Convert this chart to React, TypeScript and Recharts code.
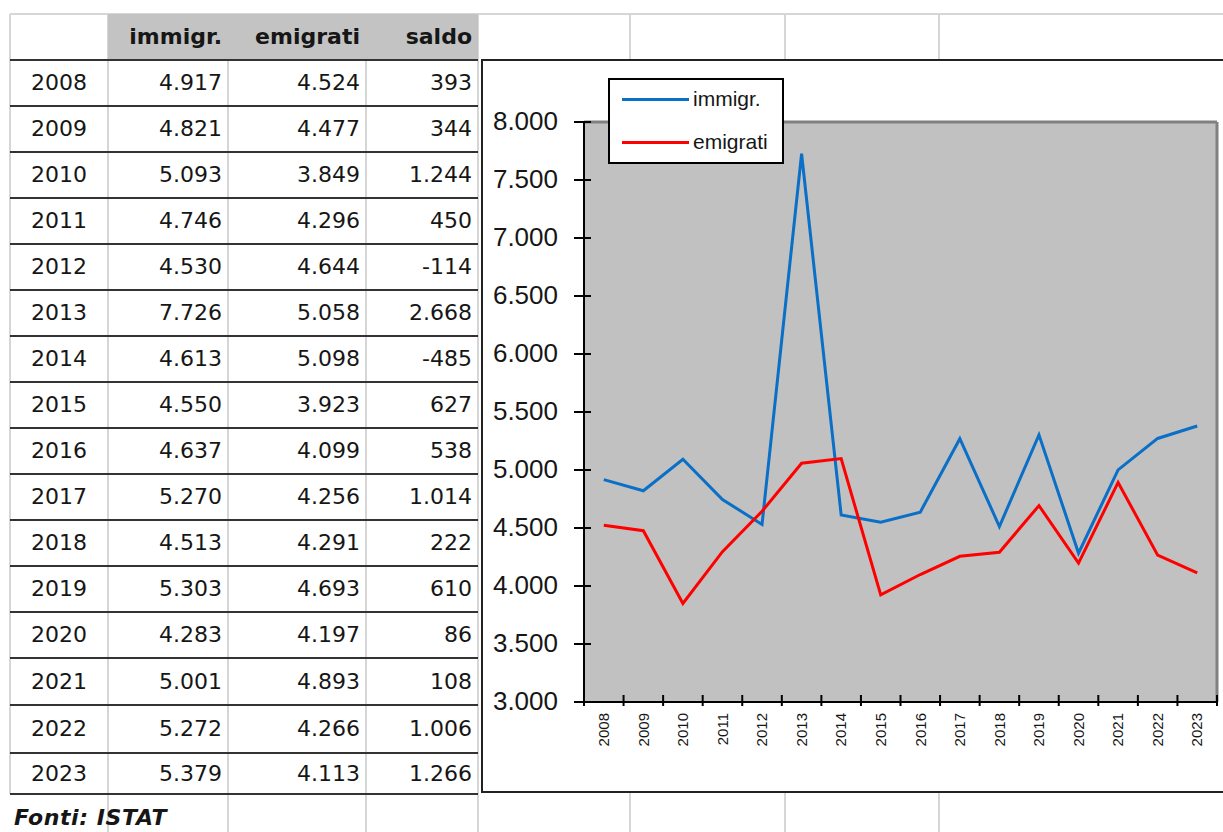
import React from 'react';
import { LineChart, Line, XAxis, YAxis, CartesianGrid, Legend } from 'recharts';

const years = ['2008', '2009', '2010', '2011', '2012', '2013', '2014', '2015', '2016', '2017', '2018', '2019', '2020', '2021', '2022', '2023'];
const immigr = [4917, 4821, 5093, 4746, 4530, 7726, 4613, 4550, 4637, 5270, 4513, 5303, 4283, 5001, 5272, 5379];
const emigrati = [4524, 4477, 3849, 4296, 4644, 5058, 5098, 3923, 4099, 4256, 4291, 4693, 4197, 4893, 4266, 4113];
const saldo = [393, 344, 1244, 450, -114, 2668, -485, 627, 538, 1014, 222, 610, 86, 108, 1006, 1266];
const headers = ['immigr.', 'emigrati', 'saldo'];
const seriesNames = ['immigr.', 'emigrati'];
const yTicks = [3000, 3500, 4000, 4500, 5000, 5500, 6000, 6500, 7000, 7500, 8000];
const sourceNote = 'Fonti: ISTAT';

const chartData = years.map((y, i) => ({ year: y, immigr: immigr[i], emigrati: emigrati[i] }));

function fmt(n: number): string {
  const s = Math.abs(n).toString().replace(/\B(?=(\d{3})+(?!\d))/g, '.');
  return (n < 0 ? '-' : '') + s;
}

// layout constants
const ROW_LINES = [60, 106, 152, 198, 244, 290, 336, 382, 428, 474, 520, 566, 612, 658, 705, 753, 794];
const COLS = [10, 108, 228, 366, 478];
const GRID = '#d6d6d6';
const TXT = '#161616';
const TABLE_FONT = "'DejaVu Sans', sans-serif";
const CHART_FONT = "'Liberation Sans', Arial, sans-serif";
const PLOT_W = 633;
const HALF = PLOT_W / 32;

function XTick(props: any) {
  const { x, y, payload, index } = props;
  const last = index === years.length - 1;
  return (
    <g>
      <line x1={x - HALF} x2={x - HALF} y1={y - 7} y2={y + 4} stroke="#000" strokeWidth={2} />
      {last && <line x1={x + HALF} x2={x + HALF} y1={y - 7} y2={y + 4} stroke="#000" strokeWidth={2} />}
      <text
        x={x}
        y={y + 11}
        transform={`rotate(-90 ${x} ${y + 11})`}
        textAnchor="end"
        dy="0.35em"
        fontSize={15}
        fontFamily={CHART_FONT}
        fill={TXT}
      >
        {payload.value}
      </text>
    </g>
  );
}

function YTick(props: any) {
  const { x, y, payload } = props;
  return (
    <g>
      <line x1={x - 10} x2={x + 7} y1={y} y2={y} stroke="#000" strokeWidth={2} />
      <text x={x - 26} y={y} dy="0.3em" textAnchor="end" fontSize={26} fontFamily={CHART_FONT} fill={TXT}>
        {fmt(payload.value)}
      </text>
    </g>
  );
}

function LegendBox(props: any) {
  const payload = [...(props.payload || [])].sort(
    (a: any, b: any) => seriesNames.indexOf(a.value) - seriesNames.indexOf(b.value)
  );
  return (
    <div
      style={{
        position: 'relative',
        width: 176,
        height: 86,
        boxSizing: 'border-box',
        border: '2px solid #000',
        background: '#fff',
      }}
    >
      {payload.map((p: any, i: number) => (
        <div
          key={i}
          style={{
            position: 'absolute',
            left: 12,
            top: (i === 0 ? 21 : 64) - 2 - 13,
            height: 26,
            display: 'flex',
            alignItems: 'center',
          }}
        >
          <div style={{ width: 67, height: 3, background: p.color }} />
          <span style={{ marginLeft: 4, fontFamily: CHART_FONT, fontSize: 21, color: TXT, lineHeight: '26px' }}>
            {p.value}
          </span>
        </div>
      ))}
    </div>
  );
}

function Table() {
  const cells: React.ReactNode[] = [];
  cells.push(
    <div key="hdrbg" style={{ position: 'absolute', left: COLS[1], top: 14, width: COLS[4] - COLS[1], height: 46, background: '#c3c3c3' }} />
  );
  headers.forEach((h, j) => {
    cells.push(
      <div
        key={'h' + j}
        style={{
          position: 'absolute',
          left: COLS[j + 1],
          top: 14,
          width: COLS[j + 2] - COLS[j + 1] - 6,
          height: 46,
          lineHeight: '46px',
          textAlign: 'right',
          fontFamily: TABLE_FONT,
          fontWeight: 'bold',
          fontSize: 22,
          color: TXT,
        }}
      >
        {h}
      </div>
    );
  });
  years.forEach((yr, i) => {
    const top = ROW_LINES[i];
    const h = ROW_LINES[i + 1] - top;
    const vals = [fmt(immigr[i]), fmt(emigrati[i]), fmt(saldo[i])];
    cells.push(
      <div
        key={'y' + i}
        style={{
          position: 'absolute',
          left: COLS[0],
          top,
          width: COLS[1] - COLS[0],
          height: h,
          lineHeight: h + 'px',
          textAlign: 'center',
          fontFamily: TABLE_FONT,
          fontSize: 22,
          color: TXT,
        }}
      >
        {yr}
      </div>
    );
    vals.forEach((v, j) => {
      cells.push(
        <div
          key={'v' + i + '-' + j}
          style={{
            position: 'absolute',
            left: COLS[j + 1],
            top,
            width: COLS[j + 2] - COLS[j + 1] - 6,
            height: h,
            lineHeight: h + 'px',
            textAlign: 'right',
            fontFamily: TABLE_FONT,
            fontSize: 22,
            color: TXT,
          }}
        >
          {v}
        </div>
      );
    });
  });
  return <>{cells}</>;
}

function SheetGrid() {
  const els: React.ReactNode[] = [];
  els.push(<div key="top" style={{ position: 'absolute', left: 10, top: 13, width: 1213, height: 2, background: GRID }} />);
  COLS.forEach((c, i) => {
    const bottom = i === 0 ? 794 : 832;
    els.push(<div key={'c' + i} style={{ position: 'absolute', left: c - 1, top: 14, width: 2, height: bottom - 14, background: GRID }} />);
  });
  [630, 785, 939].forEach((c, i) => {
    els.push(<div key={'a' + i} style={{ position: 'absolute', left: c - 1, top: 14, width: 2, height: 45, background: GRID }} />);
    els.push(<div key={'b' + i} style={{ position: 'absolute', left: c - 1, top: 793, width: 2, height: 40, background: GRID }} />);
  });
  return <>{els}</>;
}

function RowLines() {
  return (
    <>
      {ROW_LINES.map((y, i) => (
        <div key={i} style={{ position: 'absolute', left: 10, top: y - 1, width: 468, height: 2, background: '#333' }} />
      ))}
    </>
  );
}

export default function App() {
  return (
    <div
      style={{
        position: 'fixed',
        left: 0,
        top: 0,
        width: 1223,
        height: 832,
        overflow: 'hidden',
        background: '#fff',
      }}
    >
      <SheetGrid />
      <Table />
      <RowLines />
      <div
        style={{
          position: 'absolute',
          left: 14,
          top: 804,
          fontFamily: TABLE_FONT,
          fontWeight: 'bold',
          fontStyle: 'italic',
          fontSize: 22,
          letterSpacing: 0.6,
          color: TXT,
          lineHeight: '28px',
        }}
      >
        {sourceNote}
      </div>
      <div
        style={{
          position: 'absolute',
          left: 481,
          top: 59,
          width: 800,
          height: 734,
          boxSizing: 'border-box',
          border: '2px solid #222',
          background: '#fff',
        }}
      />
      <div style={{ position: 'absolute', left: 482, top: 60 }}>
        <LineChart width={741} height={732} data={chartData} margin={{ top: 62, right: 6, bottom: 0, left: 0 }}>
          <CartesianGrid fill="#c1c1c1" horizontal={false} vertical={false} />
          <CartesianGrid
            stroke="#808080"
            strokeWidth={3}
            horizontalCoordinatesGenerator={({ offset }: any) => [offset.top]}
            verticalCoordinatesGenerator={({ offset }: any) => [offset.left + offset.width]}
          />
          <XAxis
            dataKey="year"
            interval={0}
            height={90}
            padding={{ left: HALF, right: HALF }}
            tickLine={false}
            tickSize={0}
            tickMargin={0}
            tick={<XTick />}
            axisLine={{ stroke: '#000', strokeWidth: 2 }}
          />
          <YAxis
            domain={[3000, 8000]}
            ticks={yTicks}
            interval={0}
            width={102}
            tickLine={false}
            tickSize={0}
            tickMargin={0}
            tick={<YTick />}
            axisLine={{ stroke: '#000', strokeWidth: 2 }}
          />
          <Legend
            layout="horizontal"
            verticalAlign="middle"
            align="center"
            content={<LegendBox />}
            wrapperStyle={{ position: 'absolute', left: 126, top: 18, width: 176, height: 86 }}
          />
          <Line
            type="linear"
            dataKey="immigr"
            name={seriesNames[0]}
            stroke="#0a6fc6"
            strokeWidth={3}
            dot={false}
            isAnimationActive={false}
          />
          <Line
            type="linear"
            dataKey="emigrati"
            name={seriesNames[1]}
            stroke="#ff0000"
            strokeWidth={3}
            dot={false}
            isAnimationActive={false}
          />
        </LineChart>
      </div>
    </div>
  );
}
